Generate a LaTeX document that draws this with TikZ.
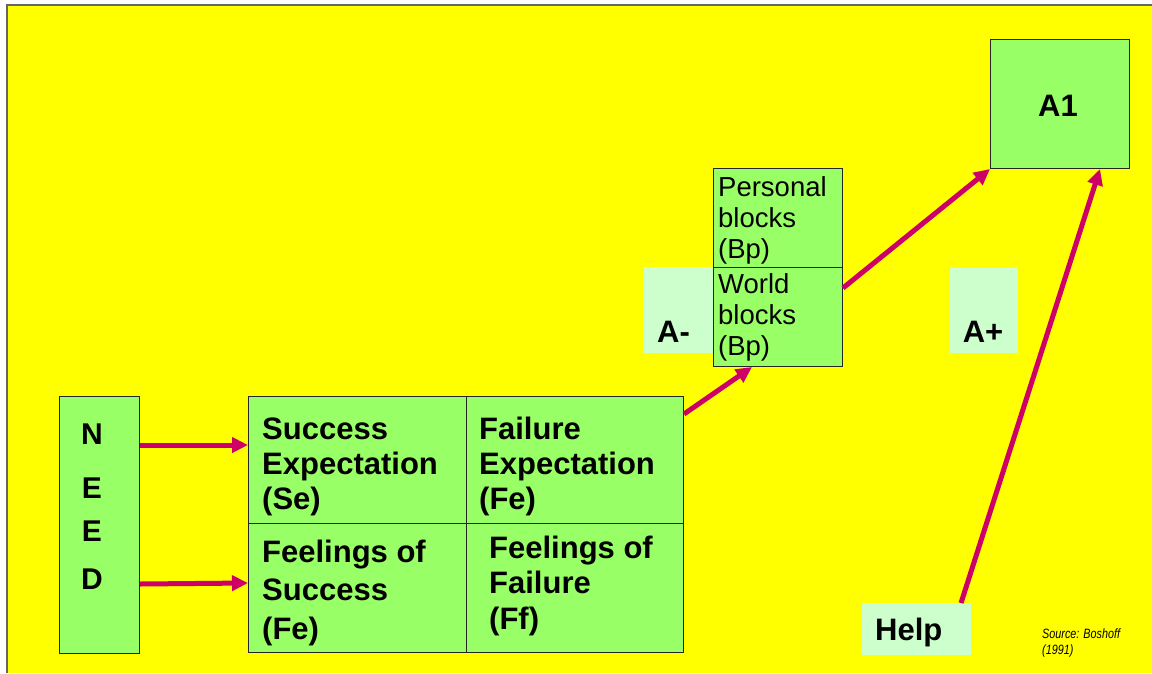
\documentclass[tikz,border=0pt]{standalone}
\usepackage{fontspec}
\setmainfont{Liberation Sans}
\newfontfamily\narrowsrc[FakeStretch=0.8]{Liberation Sans}
\usetikzlibrary{arrows.meta}
\definecolor{bgyellow}{HTML}{FFFF00}
\definecolor{boxgreen}{HTML}{99FF66}
\definecolor{palegreen}{HTML}{CCFFCC}
\definecolor{arrowred}{HTML}{CC0066}
\definecolor{framegray}{HTML}{666666}
\begin{document}
\begin{tikzpicture}[x=1pt,y=-1pt,
  box/.style={draw=black!85, line width=1pt, fill=boxgreen, inner sep=0pt, anchor=north west},
  pale/.style={fill=palegreen, inner sep=0pt, anchor=north west},
  conn/.style={draw=arrowred, line width=5pt, -{Triangle[length=16pt,width=15pt]}},
  celltxt/.style={font=\fontsize{31}{35}\bfseries\selectfont, align=left, anchor=base west, inner sep=0pt},
  blocktxt/.style={font=\fontsize{27.5}{31}\selectfont, align=left, anchor=base west, inner sep=0pt},
  labtxt/.style={font=\fontsize{31}{35}\bfseries\selectfont, inner sep=0pt},
  srctxt/.style={font=\fontsize{13.5}{16}\narrowsrc\itshape\selectfont, align=left, anchor=base west, inner sep=0pt}]
\useasboundingbox (0,0) rectangle (1152,673);
% background
\fill[bgyellow] (8,6) rectangle (1152,673);
\draw[framegray, line width=2pt] (7,673) -- (7,5) -- (1152,5);

% boxes
\node[box, minimum width=80pt, minimum height=257pt] (need) at (59,396) {};
\node[box, minimum width=218pt, minimum height=127pt] (se) at (248,396) {};
\node[box, minimum width=217pt, minimum height=127pt] (fe) at (466,396) {};
\node[box, minimum width=218pt, minimum height=129pt] (fs) at (248,523) {};
\node[box, minimum width=217pt, minimum height=129pt] (ff) at (466,523) {};
\node[pale, minimum width=69pt, minimum height=86pt] (aminus) at (644,267) {};
\node[box, minimum width=129pt, minimum height=99pt] (personal) at (713,168) {};
\node[box, minimum width=129pt, minimum height=99pt] (world) at (713,267) {};
\node[pale, minimum width=68pt, minimum height=85pt] (aplus) at (950,268) {};
\node[box, minimum width=139pt, minimum height=129pt] (a1) at (990,39) {};
\node[pale, minimum width=109pt, minimum height=52pt] (help) at (862,603) {};

% texts (base anchor = baseline of the last line)
\node[celltxt, font=\fontsize{30}{43}\bfseries\selectfont, align=center, anchor=base] (needtxt) at (92,589) {N\\[11pt]E\\E\\[5pt]D};
\node[celltxt] (setxt) at (262,509) {Success\\Expectation\\(Se)};
\node[celltxt] (fetxt) at (479,509) {Failure\\Expectation\\(Fe)};
\node[celltxt, font=\fontsize{31}{38.5}\bfseries\selectfont] (fstxt) at (262,639) {Feelings of\\Success\\(Fe)};
\node[celltxt, font=\fontsize{31}{35.5}\bfseries\selectfont] (fftxt) at (489,629) {Feelings of\\Failure\\(Ff)};
\node[blocktxt] (personaltxt) at (718,258) {Personal\\blocks\\(Bp)};
\node[blocktxt] (worldtxt) at (718,355) {World\\blocks\\(Bp)};
\node[labtxt, anchor=base west] (aminustxt) at (657,342) {A-};
\node[labtxt, anchor=base] (aplustxt) at (983,342) {A+};
\node[labtxt, anchor=base] (a1txt) at (1058,116) {A1};
\node[labtxt, anchor=base west] (helptxt) at (875,640) {Help};
\node[srctxt] (source) at (1042,654) {Source: Boshoff\\(1991)};

% connectors
\draw[conn] ([yshift=-49pt]need.north east) -- ([yshift=-49pt]se.north west);
\draw[conn] ([yshift=70pt]need.south east) -- ([yshift=70pt]fs.south west);
\draw[conn] ([yshift=-18pt]fe.north east) -- ([xshift=39pt]world.south west);
\draw[conn] ([yshift=-21pt]world.north east) -- (a1.south west);
\draw[conn] ([xshift=99pt]help.north west) -- ([xshift=110pt]a1.south west);
\end{tikzpicture}
\end{document}
